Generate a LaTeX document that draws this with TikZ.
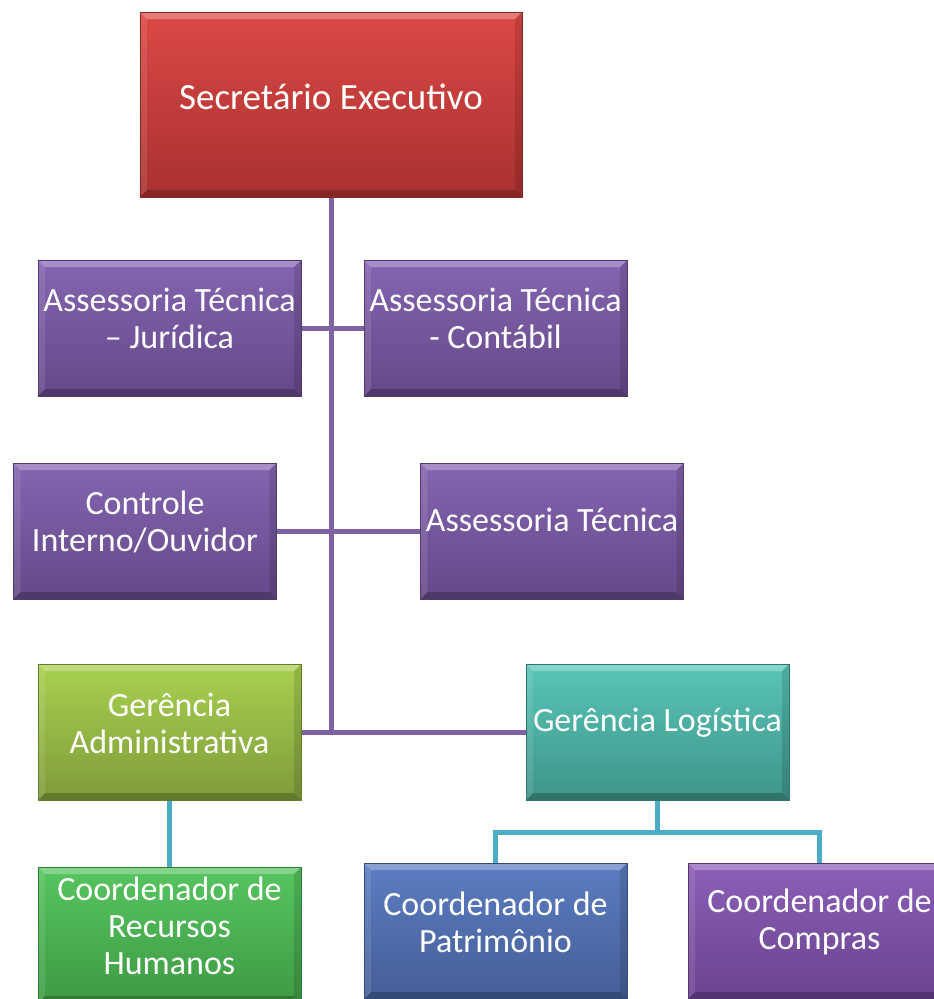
\documentclass[tikz,border=0pt]{standalone}
\usepackage{fontspec}
\setmainfont{Carlito}
\usetikzlibrary{backgrounds}
\definecolor{redT}{HTML}{DC4845}\definecolor{redB}{HTML}{A8312F}
\definecolor{purT}{HTML}{8465B2}\definecolor{purB}{HTML}{654888}
\definecolor{ygT}{HTML}{A8D14F}\definecolor{ygB}{HTML}{7E9B3B}
\definecolor{tlT}{HTML}{58C5B7}\definecolor{tlB}{HTML}{3F9489}
\definecolor{grT}{HTML}{56C55F}\definecolor{grB}{HTML}{3E9A44}
\definecolor{blT}{HTML}{5B7DC2}\definecolor{blB}{HTML}{455E97}
\definecolor{viT}{HTML}{8B5FB8}\definecolor{viB}{HTML}{6A438F}
\definecolor{lnPur}{HTML}{7F62A1}
\definecolor{lnTeal}{HTML}{4BACC6}
\tikzset{
  bevel/.style={path picture={
    \fill[white,opacity=.28] (path picture bounding box.north west) -- (path picture bounding box.north east) -- ([shift={(-7pt,-7pt)}]path picture bounding box.north east) -- ([shift={(7pt,-7pt)}]path picture bounding box.north west) -- cycle;
    \fill[black,opacity=.22] (path picture bounding box.south west) -- (path picture bounding box.south east) -- ([shift={(-7pt,7pt)}]path picture bounding box.south east) -- ([shift={(7pt,7pt)}]path picture bounding box.south west) -- cycle;
    \fill[white,opacity=.10] (path picture bounding box.north west) -- (path picture bounding box.south west) -- ([shift={(7pt,7pt)}]path picture bounding box.south west) -- ([shift={(7pt,-7pt)}]path picture bounding box.north west) -- cycle;
    \fill[black,opacity=.12] (path picture bounding box.north east) -- (path picture bounding box.south east) -- ([shift={(-7pt,7pt)}]path picture bounding box.south east) -- ([shift={(-7pt,-7pt)}]path picture bounding box.north east) -- cycle;
  }},
  orgbox/.style 2 args={rectangle, inner sep=0pt, minimum width=263pt, minimum height=136pt,
    top color=#1, bottom color=#2, draw=#2!80!black, line width=0.6pt, bevel},
  txt/.style={text=white, align=center, inner sep=0pt, font=\fontsize{34}{37}\selectfont},
  purline/.style={draw=lnPur, line width=5pt},
  tealline/.style={draw=lnTeal, line width=5pt},
}
\begin{document}
\begin{tikzpicture}[x=1pt,y=-1pt]
\useasboundingbox (0,0) rectangle (934,999);
\clip (0,0) rectangle (934,999);
% boxes
\node[orgbox={redT}{redB}, minimum width=382pt, minimum height=185pt] (sec) at (331,104.5) {};
\node[orgbox={purT}{purB}] (aj) at (169.5,328) {};
\node[orgbox={purT}{purB}] (ac) at (495.5,328) {};
\node[orgbox={purT}{purB}] (ci) at (145,531) {};
\node[orgbox={purT}{purB}] (at) at (552,531) {};
\node[orgbox={ygT}{ygB}] (ga) at (169.5,732) {};
\node[orgbox={tlT}{tlB}] (gl) at (657.5,732) {};
\node[orgbox={grT}{grB}] (rh) at (169.5,935) {};
\node[orgbox={blT}{blB}] (pat) at (495.5,931) {};
\node[orgbox={viT}{viB}] (comp) at (819.5,931) {};
% texts
\node[txt, font=\fontsize{37}{40}\selectfont] (tsec) at (331,97) {Secretário Executivo};
\node[txt] (taj) at (169.5,318) {Assessoria Técnica\\– Jurídica};
\node[txt] (tac) at (495.5,318) {Assessoria Técnica\\- Contábil};
\node[txt] (tci) at (145,522) {Controle\\Interno/Ouvidor};
\node[txt] (tat) at (552,520) {Assessoria Técnica};
\node[txt] (tga) at (169.5,723) {Gerência\\Administrativa};
\node[txt] (tgl) at (657.5,723) {Gerência Logística};
\node[txt] (trh) at (169.5,926) {Coordenador de\\Recursos\\Humanos};
\node[txt] (tpat) at (495.5,922) {Coordenador de\\Patrimônio};
\node[txt] (tcomp) at (819.5,922) {Coordenador de\\Compras};
% connectors
\begin{pgfonlayer}{background}
\fill[white] (0,0) rectangle (934,999);
\draw[purline] (sec.south) -- (sec.south |- ga.east);
\draw[purline] (aj.east) -- (ac.west);
\draw[purline] (ci.east) -- (at.west);
\draw[purline] (ga.east) -- (gl.west);
\draw[tealline] (ga.south) -- (rh.north);
\coordinate (bus) at ([yshift=-32pt]gl.south);
\draw[tealline] (gl.south) -- (bus);
\draw[tealline] (pat.north) |- (bus) -| (comp.north);
\end{pgfonlayer}
\end{tikzpicture}
\end{document}
